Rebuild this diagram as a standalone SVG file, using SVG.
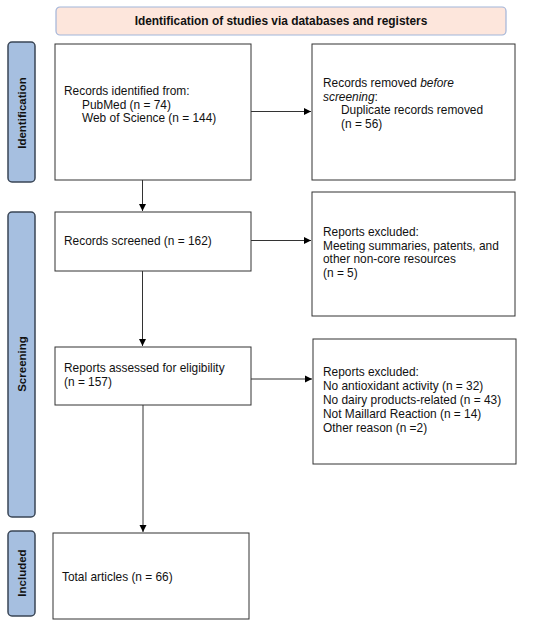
<svg xmlns="http://www.w3.org/2000/svg" width="550" height="625" viewBox="0 0 550 625">
<defs>
<marker id="ah" markerWidth="8" markerHeight="8" refX="7" refY="4" orient="auto" markerUnits="userSpaceOnUse">
<path d="M0,0.5 L7,4 L0,7.5 z" fill="#000"/>
</marker>
<style>
.box{fill:#fff;stroke:#333;stroke-width:1}
.side{fill:#a6bfe0;stroke:#3a4656;stroke-width:1.5}
.t{font-family:"Liberation Sans",Arial,sans-serif;font-size:11.9px;fill:#111}
.b{font-family:"Liberation Sans",Arial,sans-serif;font-size:11.9px;font-weight:bold;fill:#111}
.s{font-family:"Liberation Sans",Arial,sans-serif;font-size:11.5px;font-weight:bold;fill:#111}
.c{stroke:#333;stroke-width:1;fill:none;marker-end:url(#ah)}
</style>
</defs>
<rect width="550" height="625" fill="#fff"/>
<g id="header">
<rect x="56" y="7" width="450" height="28" rx="4" fill="#fde6dc" stroke="#a2b5d9" stroke-width="1.2"/>
<text class="b" x="281" y="25" text-anchor="middle">Identification of studies via databases and registers</text>
</g>
<g id="side-identification">
<rect class="side" x="8" y="42" width="27" height="140" rx="4"/>
<text class="s" transform="translate(25.5,113) rotate(-90)" text-anchor="middle">Identification</text>
</g>
<g id="side-screening">
<rect class="side" x="8" y="212" width="27" height="305" rx="4"/>
<text class="s" transform="translate(25.5,364) rotate(-90)" text-anchor="middle">Screening</text>
</g>
<g id="side-included">
<rect class="side" x="8" y="531" width="27" height="85" rx="4"/>
<text class="s" transform="translate(25.5,573) rotate(-90)" text-anchor="middle">Included</text>
</g>
<g id="identified">
<rect class="box" x="55" y="44" width="196" height="136"/>
<text class="t" x="64" y="95">Records identified from:</text>
<text class="t" x="82" y="108.5">PubMed (n = 74)</text>
<text class="t" x="82" y="122">Web of Science (n = 144)</text>
</g>
<g id="removed">
<rect class="box" x="312" y="44" width="203" height="136"/>
<text class="t" x="323" y="87">Records removed <tspan font-style="italic">before</tspan></text>
<text class="t" x="323" y="100.5"><tspan font-style="italic">screening</tspan>:</text>
<text class="t" x="341" y="114">Duplicate records removed</text>
<text class="t" x="341" y="127.5">(n = 56)</text>
</g>
<g id="screened">
<rect class="box" x="55" y="212" width="196" height="59"/>
<text class="t" x="64" y="245">Records screened (n = 162)</text>
</g>
<g id="excluded1">
<rect class="box" x="312" y="192" width="203" height="124"/>
<text class="t" x="323" y="236">Reports excluded:</text>
<text class="t" x="323" y="249.5">Meeting summaries, patents, and</text>
<text class="t" x="323" y="263">other non-core resources</text>
<text class="t" x="323" y="276.5">(n = 5)</text>
</g>
<g id="assessed">
<rect class="box" x="55" y="347" width="196" height="58"/>
<text class="t" x="64" y="372">Reports assessed for eligibility</text>
<text class="t" x="64" y="385.5">(n = 157)</text>
</g>
<g id="excluded2">
<rect class="box" x="313" y="339" width="203" height="125"/>
<text class="t" x="323" y="376">Reports excluded:</text>
<text class="t" x="323" y="390">No antioxidant activity (n = 32)</text>
<text class="t" x="323" y="404">No dairy products-related (n = 43)</text>
<text class="t" x="323" y="418">Not Maillard Reaction (n = 14)</text>
<text class="t" x="323" y="432">Other reason (n =2)</text>
</g>
<g id="included">
<rect class="box" x="53" y="533" width="196" height="86"/>
<text class="t" x="62" y="581">Total articles (n = 66)</text>
</g>
<g id="connectors">
<line class="c" x1="142.5" y1="180" x2="142.5" y2="211"/>
<line class="c" x1="142.5" y1="271" x2="142.5" y2="346"/>
<line class="c" x1="143" y1="405" x2="143" y2="532"/>
<line class="c" x1="251" y1="111.5" x2="311" y2="111.5"/>
<line class="c" x1="251" y1="240.5" x2="311" y2="240.5"/>
<line class="c" x1="251" y1="379" x2="312" y2="379"/>
</g>
</svg>
